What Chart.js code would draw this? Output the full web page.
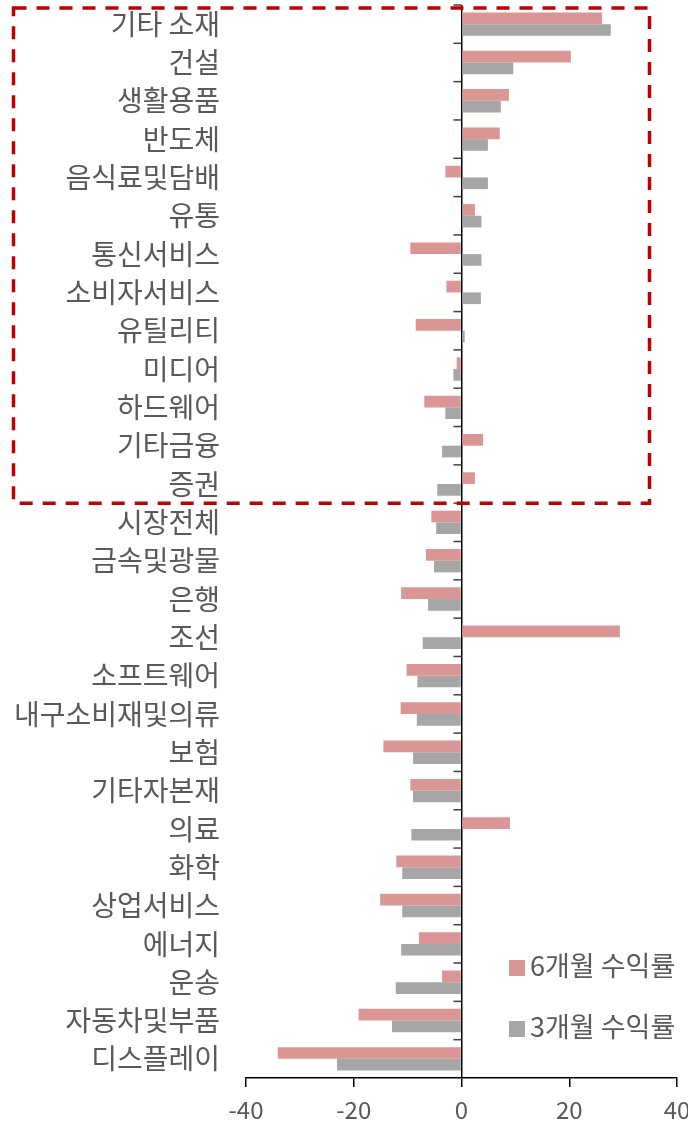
<!DOCTYPE html>
<html>
<head>
<meta charset="utf-8">
<script src="https://cdn.jsdelivr.net/npm/chart.js"></script>
<style>
body { margin: 0; background: #fff; }
.wrap { position: relative; width: 688px; height: 1122px; }
.legend { position: absolute; left: 509px; font: 27px "Noto Sans CJK KR", sans-serif; color: #595959; line-height: 27px; white-space: nowrap; }
.legend span { display: inline-block; width: 16px; height: 16px; margin-right: 5px; vertical-align: 0px; }
</style>
</head>
<body>
<div class="wrap">
  <canvas id="chart1" width="688" height="1122"></canvas>
  <div class="legend" style="top:951px"><span style="background:#D99694"></span>6개월 수익률</div>
  <div class="legend" style="top:1012px"><span style="background:#A6A6A6"></span>3개월 수익률</div>
</div>
<script>
const categories = ['기타 소재', '건설', '생활용품', '반도체', '음식료및담배', '유통', '통신서비스', '소비자서비스', '유틸리티', '미디어', '하드웨어', '기타금융', '증권', '시장전체', '금속및광물', '은행', '조선', '소프트웨어', '내구소비재및의류', '보험', '기타자본재', '의료', '화학', '상업서비스', '에너지', '운송', '자동차및부품', '디스플레이'];
const sixMonth = [26.1, 20.3, 8.8, 7.1, -3.0, 2.5, -9.5, -2.8, -8.5, -0.9, -6.9, 4.0, 2.5, -5.6, -6.6, -11.2, 29.4, -10.2, -11.3, -14.5, -9.5, 9.0, -12.1, -15.1, -7.9, -3.6, -19.1, -34.1];
const threeMonth = [27.7, 9.6, 7.3, 4.9, 4.9, 3.7, 3.7, 3.6, 0.6, -1.5, -3.0, -3.6, -4.5, -4.7, -5.1, -6.2, -7.2, -8.2, -8.3, -9.0, -9.0, -9.3, -11.0, -11.0, -11.2, -12.2, -12.9, -23.1];
const xTicks = [-40, -20, 0, 20, 40];
const boxLast = '증권'; // last category inside the dashed box

// category tick marks on the zero line + red dashed box
const extras = {
    id: 'extras',
    afterDraw(chart) {
        const x = chart.scales.x;
        const y = chart.scales.y;
        const ctx = chart.ctx;
        const x0 = x.getPixelForValue(0);
        const half = (y.getPixelForValue(1) - y.getPixelForValue(0)) / 2;
        ctx.save();
        ctx.strokeStyle = '#404040';
        ctx.lineWidth = 1.5;
        for (let i = 0; i < categories.length; i++) {
            const py = y.getPixelForValue(i) - half;
            ctx.beginPath();
            ctx.moveTo(x0, py);
            ctx.lineTo(x0 - 8, py);
            ctx.stroke();
        }
        const i = categories.indexOf(boxLast);
        const bottom = y.getPixelForValue(i) + half;
        ctx.strokeStyle = '#C00000';
        ctx.lineWidth = 3.5;
        ctx.setLineDash([13, 10]);
        ctx.strokeRect(13.5, 8, 636, bottom - 8);
        ctx.restore();
    }
};

const a = document.getElementById('chart1');
new Chart(a, {
    type: 'bar',
    data: {
        labels: categories,
        datasets: [{
            label: '6개월 수익률',
            data: sixMonth,
            backgroundColor: '#D99694'
        },
        {
            label: '3개월 수익률',
            data: threeMonth,
            backgroundColor: '#A6A6A6'
        }]
    },
    options: {
        indexAxis: 'y',
        responsive: false,
        animation: false,
        categoryPercentage: 0.61,
        barPercentage: 1,
        layout: { padding: { top: 5, right: 11, bottom: 0, left: 0 } },
        scales: {
            y: {
                grid: { display: false, drawTicks: false },
                border: { display: false },
                ticks: {
                    color: '#595959',
                    padding: 26,
                    font: { family: '"Noto Sans CJK KR"', size: 28 }
                },
                afterFit: s => { s.width = 246; s.paddingTop = 0; s.paddingBottom = 0; }
            },
            x: {
                min: -40,
                max: 40,
                afterBuildTicks: s => { s.ticks = xTicks.map(v => ({ value: v })); },
                grid: {
                    color: c => c.tick && c.tick.value === 0 ? '#000' : 'transparent',
                    tickColor: '#000',
                    tickLength: 9,
                    lineWidth: 1.5
                },
                border: { display: true, color: '#000', width: 1.5 },
                ticks: {
                    color: '#595959',
                    padding: 8,
                    font: { family: '"Noto Sans CJK KR"', size: 24 }
                },
                afterFit: s => { s.height = 44; s.paddingLeft = 0; s.paddingRight = 0; }
            }
        },
        plugins: {
            legend: { display: false },
            tooltip: { enabled: false }
        }
    },
    plugins: [extras]
});
</script>
</body>
</html>
